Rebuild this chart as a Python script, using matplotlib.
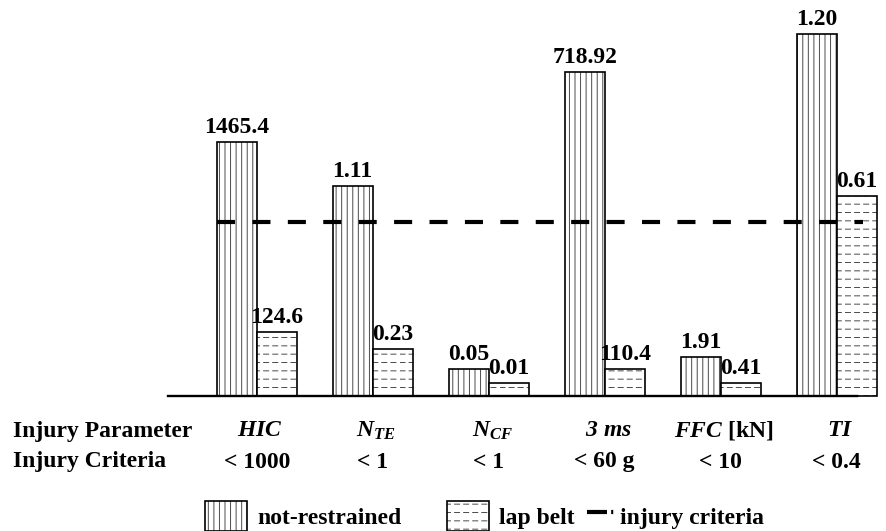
import numpy as np
import matplotlib
matplotlib.use('Agg')
import matplotlib.pyplot as plt
import matplotlib.hatch as mhatch
import matplotlib.transforms as mtransforms
from matplotlib.path import Path
from matplotlib.patches import Patch
from matplotlib.lines import Line2D

# -------------------------------------------------
# data
# bar heights are as drawn, in units of the injury criterion line
parameters = [r'$HIC$', r'$N_{TE}$', r'$N_{CF}$', r'$3\ ms$',
              r'$FFC$ [kN]', r'$TI$']
criteria = ['< 1000', '< 1', '< 1', '< 60 g', '< 10', '< 0.4']

not_restrained_labels = ['1465.4', '1.11', '0.05', '718.92', '1.91', '1.20']
lap_belt_labels = ['124.6', '0.23', '0.01', '110.4', '0.41', '0.61']

not_restrained_height = [1.464, 1.209, 0.155, 1.865, 0.225, 2.084]
lap_belt_height = [0.368, 0.271, 0.075, 0.155, 0.075, 1.151]

criterion_level = 1.0

# -------------------------------------------------
# dashed horizontal hatch for the lap belt bars


class DashedHorizontalHatch(mhatch.HatchPatternBase):
    def __init__(self, hatch, density):
        self.num_lines = int((hatch.count('-') + hatch.count('+')) * density)
        self.num_dashes = 11
        self.num_vertices = self.num_lines * self.num_dashes * 2

    def set_vertices_and_codes(self, vertices, codes):
        rows, row_step = np.linspace(0, 1, self.num_lines, endpoint=False, retstep=True)
        rows += row_step / 2
        starts, step = np.linspace(0, 1, self.num_dashes, endpoint=False, retstep=True)
        xx, yy = np.meshgrid(starts, rows)
        vertices[0::2, 0] = xx.ravel()
        vertices[0::2, 1] = yy.ravel()
        vertices[1::2, 0] = xx.ravel() + step * 0.55
        vertices[1::2, 1] = yy.ravel()
        codes[0::2] = Path.MOVETO
        codes[1::2] = Path.LINETO


mhatch._hatch_types[mhatch._hatch_types.index(mhatch.HorizontalHatch)] = DashedHorizontalHatch

# -------------------------------------------------

plt.rcParams['font.family'] = ['Liberation Serif', 'DejaVu Serif']
plt.rcParams['font.weight'] = 'bold'
plt.rcParams['mathtext.fontset'] = 'custom'
plt.rcParams['mathtext.rm'] = 'Liberation Serif:italic:bold'
plt.rcParams['mathtext.it'] = 'Liberation Serif:italic:bold'
plt.rcParams['mathtext.bf'] = 'Liberation Serif:italic:bold'
plt.rcParams['hatch.linewidth'] = 0.7
plt.rcParams['lines.scale_dashes'] = False

FS = 17
hatch_grey = '#4a4a4a'

fig = plt.figure(figsize=(8.87, 5.31), dpi=100)
ax = fig.add_axes([168 / 887, 135 / 531, 689 / 887, 382 / 531])

x = np.arange(len(parameters))
w = 0.345

ax.bar(x - w / 2, not_restrained_height, w, color='white', edgecolor=hatch_grey,
       hatch='|||', linewidth=0, clip_on=False)
ax.bar(x - w / 2, not_restrained_height, w, fill=False, edgecolor='black',
       linewidth=1.2, clip_on=False)
ax.bar(x + w / 2, lap_belt_height, w, color='white', edgecolor=hatch_grey,
       hatch='--', linewidth=0, clip_on=False)
ax.bar(x + w / 2, lap_belt_height, w, fill=False, edgecolor='black',
       linewidth=1.2, clip_on=False)

for i in range(len(x)):
    ax.annotate(not_restrained_labels[i], (x[i] - w / 2, not_restrained_height[i]),
                xytext=(0, 3), textcoords='offset points', ha='center', va='bottom',
                fontsize=FS, fontweight='bold')
    ax.annotate(lap_belt_labels[i], (x[i] + w / 2, lap_belt_height[i]),
                xytext=(0, 3), textcoords='offset points', ha='center', va='bottom',
                fontsize=FS, fontweight='bold')

ax.hlines(criterion_level, x[0] - w, x[-1] + 0.23, colors='black', linewidth=3,
          linestyles=(0, (13, 12.5)), zorder=5, clip_on=False)

ax.set_xlim(-0.765, 5.175)
ax.set_ylim(0, 2.2)
for side in ['left', 'right', 'top']:
    ax.spines[side].set_visible(False)
ax.spines['bottom'].set_linewidth(1.7)
ax.set_xticks([])
ax.set_yticks([])

# row labels under the axis
row = mtransforms.blended_transform_factory(ax.transData, fig.transFigure)
fig.text(13 / 887, 1 - 431 / 531, 'Injury Parameter', ha='left', va='center',
         fontsize=FS, fontweight='bold')
fig.text(13 / 887, 1 - 462 / 531, 'Injury Criteria', ha='left', va='center',
         fontsize=FS, fontweight='bold')
for i in range(len(x)):
    ax.text(x[i] + 0.03, 1 - 431 / 531, parameters[i], transform=row, ha='center',
            va='center', fontsize=FS, fontweight='bold')
    ax.text(x[i], 1 - 462 / 531, criteria[i], transform=row, ha='center',
            va='center', fontsize=FS, fontweight='bold')

# legend: two patch entries, then the line entry with a shorter handle
h1 = (Patch(facecolor='white', edgecolor=hatch_grey, hatch='|||', linewidth=0),
      Patch(fill=False, edgecolor='black', linewidth=1.2))
h2 = (Patch(facecolor='white', edgecolor=hatch_grey, hatch='--', linewidth=0),
      Patch(fill=False, edgecolor='black', linewidth=1.2))
h3 = Line2D([], [], color='black', linewidth=3, linestyle=(0, (14.4, 3, 1.5, 40)))
fig.legend([h1, h2], ['not-restrained', 'lap belt'],
           loc='lower left', bbox_to_anchor=(205 / 887, 0.0), ncol=2, frameon=False,
           handlelength=1.78, handleheight=1.6, handletextpad=0.42,
           columnspacing=1.95, borderpad=0, borderaxespad=0,
           prop={'weight': 'bold', 'size': FS})
fig.legend([h3], ['injury criteria'],
           loc='lower left', bbox_to_anchor=(587 / 887, 0.0), frameon=False,
           handlelength=1.15, handleheight=1.6, handletextpad=0.25,
           borderpad=0, borderaxespad=0,
           prop={'weight': 'bold', 'size': FS})

fig.savefig('out.png', dpi=100)
